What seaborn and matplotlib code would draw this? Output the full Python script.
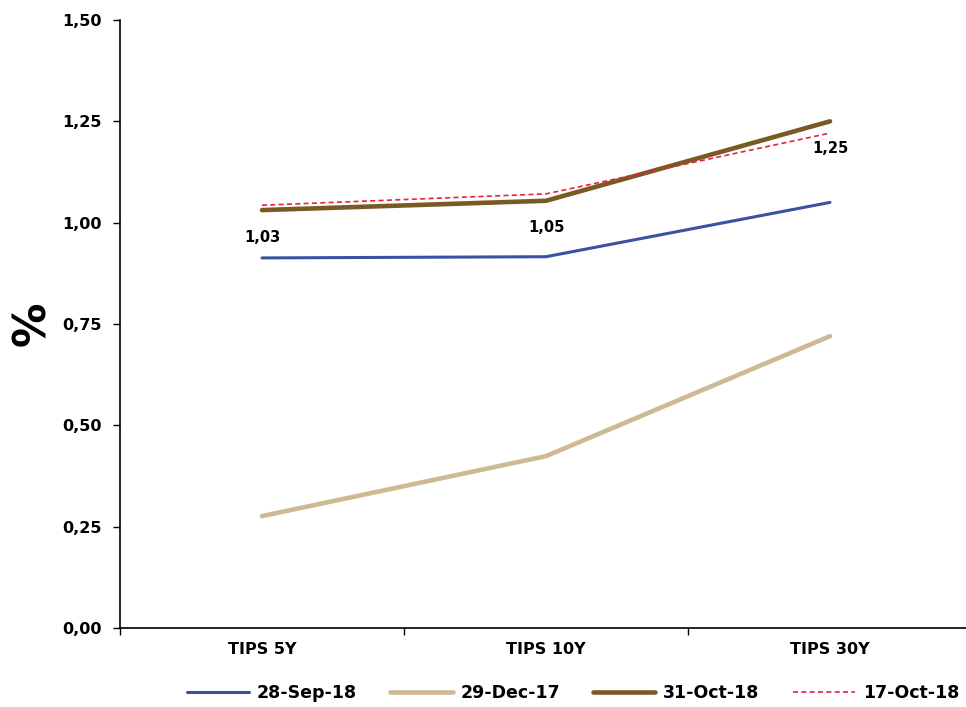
import numpy as np
import pandas as pd
import matplotlib
matplotlib.use("Agg")
import matplotlib.pyplot as plt
import seaborn as sns

# Data
categories = ["TIPS 5Y", "TIPS 10Y", "TIPS 30Y"]
sep28_18 = [0.913, 0.916, 1.050]
dec29_17 = [0.276, 0.424, 0.720]
oct31_18 = [1.031, 1.054, 1.250]
oct17_18 = [1.043, 1.071, 1.221]
point_labels = ["1,03", "1,05", "1,25"]

series = {
    "28-Sep-18": sep28_18,
    "29-Dec-17": dec29_17,
    "31-Oct-18": oct31_18,
    "17-Oct-18": oct17_18,
}
styles = {
    "28-Sep-18": dict(color="#3B52A3", lw=2.2, ls="-"),
    "29-Dec-17": dict(color="#CDB994", lw=3.3, ls="-"),
    "31-Oct-18": dict(color="#7A5A24", lw=3.3, ls="-"),
    "17-Oct-18": dict(color="#E8213F", lw=1.2, ls=(0, (3, 2))),
}

sns.set_style("white")
plt.rcParams["font.family"] = ["DejaVu Sans"]
plt.rcParams["font.weight"] = "bold"
plt.rcParams["text.color"] = "black"
plt.rcParams["xtick.color"] = "black"
plt.rcParams["ytick.color"] = "black"
plt.rcParams["axes.labelcolor"] = "black"

fig = plt.figure(figsize=(9.66, 7.07), dpi=100)
ax = fig.add_axes([120 / 966, 1 - 628 / 707, 852 / 966, 608 / 707])

x = np.arange(len(categories))
for name, vals in series.items():
    df = pd.DataFrame({"x": x, "y": vals})
    st = styles[name]
    sns.lineplot(data=df, x="x", y="y", ax=ax, color=st["color"],
                 linewidth=st["lw"], linestyle=st["ls"], label=name)

# value labels under the 31-Oct-18 line
for xi, yi, lab in zip(x, oct31_18, point_labels):
    ax.annotate(lab, (xi, yi), xytext=(0, -27), textcoords="offset pixels",
                ha="center", va="center", fontsize=10.5, fontweight="bold")

ax.set_xlim(-0.5, 2.5)
ax.set_ylim(0, 1.5)
ticks = np.arange(0, 1.51, 0.25)
ax.set_yticks(ticks)
ax.set_yticklabels([f"{v:.2f}".replace(".", ",") for v in ticks],
                   fontsize=11.5, fontweight="bold")
ax.set_xticks([-0.5, 0.5, 1.5, 2.5])
ax.set_xticklabels([])
ax.set_xticks(x, minor=True)
ax.set_xticklabels(categories, minor=True, fontsize=11.5, fontweight="bold")
ax.tick_params(axis="x", which="minor", length=0, pad=10)
ax.tick_params(axis="both", which="major", direction="out", length=5, width=1,
               color="black", left=True, bottom=True)
ax.tick_params(axis="y", pad=8)
ax.set_xlabel("")
ax.set_ylabel("%", fontsize=32, fontweight="bold", labelpad=6)

for side in ["top", "right"]:
    ax.spines[side].set_visible(False)
for side in ["left", "bottom"]:
    ax.spines[side].set_color("black")
    ax.spines[side].set_linewidth(1.2)

ax.legend(loc="center", bbox_to_anchor=(573 / 966, 14 / 707),
          bbox_transform=fig.transFigure, ncol=4, frameon=False,
          handlelength=3.6, handletextpad=0.45, columnspacing=1.9,
          prop={"weight": "bold", "size": 12.5})

fig.savefig("out.png", dpi=100)
